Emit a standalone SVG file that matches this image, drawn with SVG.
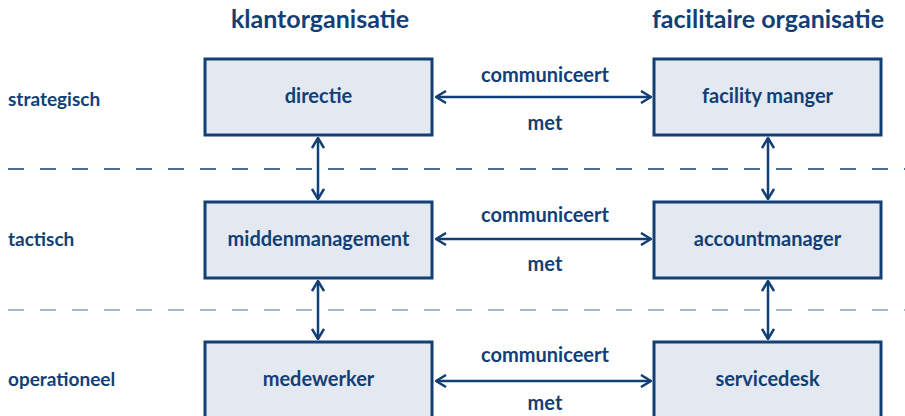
<svg xmlns="http://www.w3.org/2000/svg" width="905" height="416" viewBox="0 0 905 416">
<defs>
<style>
text{font-family:"Lato","Noto Sans",sans-serif;font-weight:bold;fill:#123f75}
.h{font-size:25px;text-anchor:middle}
.r{font-size:19px}
.n{font-size:20px;text-anchor:middle}
.l{font-size:20px;text-anchor:middle}
.box{fill:#e4e9f1;stroke:#123f75;stroke-width:3}
.c{stroke:#123f75;stroke-width:2.5;fill:none;marker-start:url(#a);marker-end:url(#a)}
.d1{stroke:#123f75;stroke-width:1.5;stroke-dasharray:16 16}
.d2{stroke:#8aa0bb;stroke-width:1.5;stroke-dasharray:16 16}
</style>
<marker id="a" viewBox="0 0 12 14" refX="11" refY="7" markerWidth="12" markerHeight="14" markerUnits="userSpaceOnUse" orient="auto-start-reverse">
<path d="M1 1 L11 7 L1 13" fill="none" stroke="#123f75" stroke-width="2.5"/>
</marker>
</defs>
<rect width="905" height="416" fill="#fff"/>
<text class="h" x="320" y="28">klantorganisatie</text>
<text class="h" x="768" y="28">facilitaire organisatie</text>
<text class="r" x="8" y="106">strategisch</text>
<text class="r" x="8" y="246">tactisch</text>
<text class="r" x="8" y="386">operationeel</text>
<line class="d1" x1="8" y1="169" x2="905" y2="169"/>
<line class="d2" x1="8" y1="310" x2="905" y2="310"/>
<g id="connectors">
<line class="c" x1="436" y1="97" x2="651" y2="97"/>
<line class="c" x1="436" y1="239" x2="651" y2="239"/>
<line class="c" x1="436" y1="381" x2="651" y2="381"/>
<line class="c" x1="318" y1="138" x2="318" y2="199"/>
<line class="c" x1="318" y1="281" x2="318" y2="339"/>
<line class="c" x1="768" y1="138" x2="768" y2="199"/>
<line class="c" x1="768" y1="281" x2="768" y2="339"/>
<text class="l" x="545" y="82">communiceert</text>
<text class="l" x="545" y="130">met</text>
<text class="l" x="545" y="222">communiceert</text>
<text class="l" x="545" y="271">met</text>
<text class="l" x="545" y="362">communiceert</text>
<text class="l" x="545" y="410">met</text>
</g>
<g id="directie"><rect class="box" x="205" y="59" width="227" height="76"/><text class="n" x="318.5" y="103">directie</text></g>
<g id="facility"><rect class="box" x="654" y="59" width="227" height="76"/><text class="n" x="767.5" y="103">facility manger</text></g>
<g id="middenmanagement"><rect class="box" x="205" y="202" width="227" height="76"/><text class="n" x="318.5" y="246">middenmanagement</text></g>
<g id="accountmanager"><rect class="box" x="654" y="202" width="227" height="76"/><text class="n" x="767.5" y="246">accountmanager</text></g>
<g id="medewerker"><rect class="box" x="205" y="342" width="227" height="90"/><text class="n" x="318.5" y="386">medewerker</text></g>
<g id="servicedesk"><rect class="box" x="654" y="342" width="227" height="90"/><text class="n" x="767.5" y="386">servicedesk</text></g>
</svg>
